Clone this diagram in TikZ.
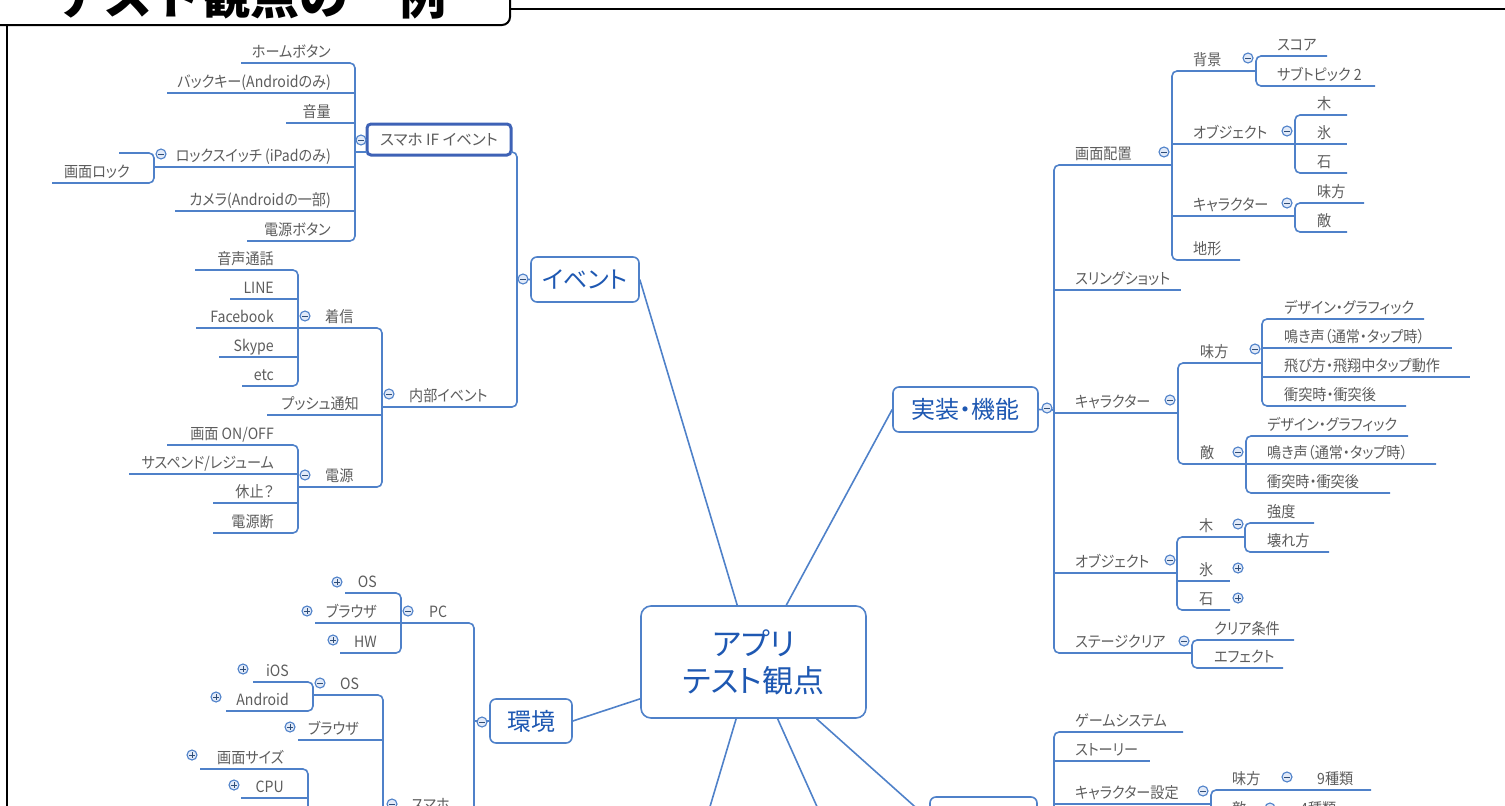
\documentclass[tikz,border=0pt]{standalone}
\usepackage{fontspec}
\setmainfont[RawFeature=+palt]{Noto Sans CJK JP}
\newfontfamily\titlefont{Noto Sans CJK JP}
\newfontfamily\leaffont[RawFeature=+palt, FakeStretch=0.91]{Noto Sans CJK JP}
\usetikzlibrary{calc}
\definecolor{lc}{RGB}{79,129,201}
\definecolor{selc}{RGB}{62,98,182}
\definecolor{tb}{RGB}{30,88,178}
\definecolor{tg}{RGB}{92,92,92}
\definecolor{cf}{RGB}{226,234,248}
\tikzset{
  ln/.style={draw=lc, line width=1.6, rounded corners=5},
  leaf/.style={text=tg, font=\leaffont\fontsize{15.5}{18}\selectfont, inner sep=0},
  topic/.style={draw=lc, line width=1.6, rounded corners=6, text=tb, font=\fontsize{24}{28}\selectfont, inner sep=0, fill=white},
  selbox/.style={draw=selc, line width=3, rounded corners=4, text=tg, font=\fontsize{15.5}{18}\selectfont, inner sep=0, fill=white},
  cminus/.style={circle, draw=lc, fill=cf, line width=1.1, minimum size=10, inner sep=0,
    path picture={\draw[lc!60!black, line width=0.9] ($(path picture bounding box.center)+(-2.6,0)$) -- ($(path picture bounding box.center)+(2.6,0)$);}},
  cplus/.style={circle, draw=lc, fill=cf, line width=1.1, minimum size=10, inner sep=0,
    path picture={\draw[lc!60!black, line width=0.9] ($(path picture bounding box.center)+(-2.6,0)$) -- ($(path picture bounding box.center)+(2.6,0)$) ($(path picture bounding box.center)+(0,-2.6)$) -- ($(path picture bounding box.center)+(0,2.6)$);}}
}
\newcommand\TL[4]{\node[leaf,anchor=base east] (#1) at (#2,#3) {#4};}
\newcommand\TR[4]{\node[leaf,anchor=base west] (#1) at (#2,#3) {#4};}
\newcommand\CM[3]{\node[cminus] (#1) at (#2,#3) {};}
\newcommand\CP[3]{\node[cplus] (#1) at (#2,#3) {};}
\begin{document}
\begin{tikzpicture}[x=1pt,y=-1pt]
\useasboundingbox (0,0) rectangle (1505,806);
% ---------- frame and title ----------
\draw[black, line width=2, rounded corners=8] (-10,-80) rectangle (510,25);
\draw[black, line width=2.2] (510,9) -- (1515,9);
\draw[black, line width=1.5] (7,25) -- (7,815);
\node[anchor=base east, font=\titlefont\bfseries\fontsize{49}{55}\selectfont, inner sep=0] (title) at (447,14) {テスト観点の一例};
% ---------- central ----------
\node[topic, rounded corners=10, minimum width=225, minimum height=112, align=center, font=\fontsize{31}{37}\selectfont] (cen) at (753.5,662) {アプリ\\テスト観点};
\node[topic, minimum width=108, minimum height=45] (ev) at (585,279.5) {イベント};
\node[topic, minimum width=145, minimum height=45] (impl) at (965.5,409.5) {実装・機能};
\node[topic, minimum width=82, minimum height=44] (env) at (531,721) {環境};
\node[topic, minimum width=107, minimum height=45] (bot) at (983.5,819.5) {};
\coordinate (b1) at (706,820);
\coordinate (b2) at (823,820);
\draw[ln] (cen.106.4) -- (ev.east);
\draw[ln] (cen.60.6) -- (impl.west);
\draw[ln] (cen.198.2) -- (env.east);
\draw[ln] (cen.253.6) -- (b1);
\draw[ln] (cen.293.6) -- (b2);
\draw[ln] (cen.318.6) -- (bot.west);
% ---------- event branch ----------
\node[selbox, minimum width=144, minimum height=31] (sif) at (439,139.5) {スマホ IF イベント};
\draw[ln] (241,63) -- (355,63) -- (355,241) -- (247,241);
\draw[ln] (167,93) -- (355,93);
\draw[ln] (286,123) -- (355,123);
\draw[ln] (154,167) -- (355,167);
\draw[ln] (175,211) -- (355,211);
\draw[ln] (355,152) -- (367,152);
\draw[ln] (119,153) -- (154,153) -- (154,183) -- (52,183);
\draw[ln] (511,152) -- (517,152) -- (517,407) -- (382,407);
\draw[ln] (517,280) -- (ev.west);
\draw[ln] (195,270) -- (298,270) -- (298,386) -- (242,386);
\draw[ln] (230,299) -- (298,299);
\draw[ln] (196,328) -- (382,328) -- (382,487) -- (298,487);
\draw[ln] (219,357) -- (298,357);
\draw[ln] (267,415) -- (382,415);
\draw[ln] (167,445) -- (298,445) -- (298,533) -- (213,533);
\draw[ln] (129,474) -- (298,474);
\draw[ln] (213,503) -- (298,503);
\TL{hb}{331}{57}{ホームボタン}
\TL{bk}{331}{87}{バックキー(Androidのみ)}
\TL{vol}{331}{117}{音量}
\TL{lock}{331}{161}{ロックスイッチ (iPadのみ)}
\TL{cam}{331}{205}{カメラ(Androidの一部)}
\TL{pwb}{331}{235}{電源ボタン}
\TL{scl}{130}{177}{画面ロック}
\CM{c1}{161}{154}
\CM{c2}{361}{140}
\CM{c3}{523}{279}
\TR{inner}{409}{401}{内部イベント}
\CM{c4}{389}{394}
\TR{chak}{325}{322}{着信}
\CM{c5}{305}{316}
\TL{vc}{274}{264}{音声通話}
\TL{line}{274}{293}{LINE}
\TL{fb}{274}{322}{Facebook}
\TL{sk}{274}{351}{Skype}
\TL{etc}{274}{380}{etc}
\TL{push}{359}{409}{プッシュ通知}
\TR{den}{325}{481}{電源}
\CM{c6}{305}{475}
\TL{onoff}{274}{439}{画面 ON/OFF}
\TL{susp}{274}{468}{サスペンド/レジューム}
\TL{hib}{274}{497}{休止？}
\TL{off}{274}{527}{電源断}
% ---------- environment branch ----------
\draw[ln] (345,593) -- (401,593) -- (401,653) -- (340,653);
\draw[ln] (315,623) -- (474,623) -- (474,815);
\draw[ln] (474,721) -- (env.west);
\draw[ln] (253,682) -- (313,682) -- (313,711) -- (226,711);
\draw[ln] (313,695) -- (383,695) -- (383,815);
\draw[ln] (298,740) -- (383,740);
\draw[ln] (200,769) -- (308,769) -- (308,815);
\draw[ln] (241,798) -- (308,798);
\CM{c7}{482}{722}
\TL{pcos}{377}{587}{OS}\CP{p1}{337}{582}
\TL{pcbr}{377}{617}{ブラウザ}\CP{p2}{307}{611}
\TL{pchw}{377}{647}{HW}\CP{p3}{333}{640}
\TR{pc}{429}{617}{PC}\CM{c8}{408}{611}
\TL{ios}{289}{676}{iOS}\CP{p4}{243}{669}
\TL{andr}{289}{705}{Android}\CP{p5}{216}{697}
\TR{smos}{340}{689}{OS}\CM{c9}{320}{683}
\TL{smbr}{359}{734}{ブラウザ}\CP{p6}{290}{727}
\TL{size}{284}{763}{画面サイズ}\CP{p7}{192}{755}
\TL{cpu}{284}{792}{CPU}\CP{p8}{234}{785}
\TR{smaho}{411}{810}{スマホ}\CM{c10}{392}{804}
% ---------- implementation branch ----------
\draw[ln] (impl.east) -- (1054,410);
\draw[ln] (1172,165) -- (1054,165) -- (1054,653) -- (1192,653);
\draw[ln] (1054,290) -- (1181,290);
\draw[ln] (1054,413) -- (1178,413);
\draw[ln] (1054,573) -- (1177,573);
\draw[ln] (1256,71) -- (1172,71) -- (1172,260) -- (1240,260);
\draw[ln] (1172,144) -- (1347,144);
\draw[ln] (1172,216) -- (1295,216);
\draw[ln] (1327,56) -- (1256,56) -- (1256,86) -- (1375,86);
\draw[ln] (1347,115) -- (1295,115) -- (1295,173) -- (1347,173);
\draw[ln] (1364,203) -- (1295,203) -- (1295,232) -- (1347,232);
\draw[ln] (1262,363) -- (1178,363) -- (1178,464) -- (1436,464);
\draw[ln] (1424,319) -- (1262,319) -- (1262,406) -- (1406,406);
\draw[ln] (1262,348) -- (1452,348);
\draw[ln] (1262,377) -- (1470,377);
\draw[ln] (1408,436) -- (1246,436) -- (1246,493) -- (1390,493);
\draw[ln] (1245,537) -- (1177,537) -- (1177,610) -- (1230,610);
\draw[ln] (1177,581) -- (1230,581);
\draw[ln] (1314,523) -- (1245,523) -- (1245,552) -- (1329,552);
\draw[ln] (1294,640) -- (1192,640) -- (1192,668) -- (1283,668);
\CM{c11}{1047}{408}
\TR{layout}{1075}{159}{画面配置}\CM{c12}{1164}{152}
\TR{bg}{1193}{65}{背景}\CM{c13}{1248}{58}
\TR{score}{1277}{50}{スコア}
\TR{sub2}{1277}{80}{サブトピック 2}
\TR{obj1}{1193}{138}{オブジェクト}\CM{c14}{1287}{131}
\TR{ki1}{1317}{109}{木}
\TR{ko1}{1317}{138}{氷}
\TR{is1}{1317}{167}{石}
\TR{chr1}{1193}{210}{キャラクター}\CM{c15}{1287}{203}
\TR{mi1}{1317}{197}{味方}
\TR{te1}{1317}{226}{敵}
\TR{chikei}{1193}{254}{地形}
\TR{sling}{1075}{284}{スリングショット}
\TR{chr2}{1075}{407}{キャラクター}\CM{c16}{1170}{400}
\TR{mi2}{1200}{357}{味方}\CM{c17}{1255}{349}
\TR{d1}{1284}{313}{デザイン・グラフィック}
\TR{n1}{1284}{342}{鳴き声（通常・タップ時）}
\TR{f1}{1284}{371}{飛び方・飛翔中タップ動作}
\TR{s1}{1284}{400}{衝突時・衝突後}
\TR{te2}{1200}{458}{敵}\CM{c18}{1238}{452}
\TR{d2}{1267}{430}{デザイン・グラフィック}
\TR{n2}{1267}{458}{鳴き声（通常・タップ時）}
\TR{s2}{1267}{487}{衝突時・衝突後}
\TR{obj2}{1075}{567}{オブジェクト}\CM{c19}{1170}{560}
\TR{ki2}{1199}{531}{木}\CM{c20}{1238}{524}
\TR{kyo}{1267}{517}{強度}
\TR{kow}{1267}{546}{壊れ方}
\TR{ko2}{1199}{575}{氷}\CP{p9}{1238}{568}
\TR{is2}{1199}{604}{石}\CP{p10}{1238}{598}
\TR{stg}{1075}{647}{ステージクリア}\CM{c21}{1184}{641}
\TR{clr}{1214}{634}{クリア条件}
\TR{eff}{1214}{662}{エフェクト}
% ---------- game branch ----------
\draw[ln] (1183,732) -- (1054,732) -- (1054,815);
\draw[ln] (1054,761) -- (1150,761);
\draw[ln] (1054,804) -- (1211,804);
\draw[ln] (1371,790) -- (1211,790) -- (1211,815);
\TR{gs}{1075}{726}{ゲームシステム}
\TR{story}{1075}{755}{ストーリー}
\TR{chset}{1075}{798}{キャラクター設定}\CM{c22}{1203}{791}
\TR{mi3}{1232}{784}{味方}\CM{c23}{1287}{777}
\TR{k9}{1317}{784}{9種類}
\TR{te3}{1232}{814}{敵}\CM{c24}{1270}{808}
\TR{k4}{1300}{814}{4種類}
\end{tikzpicture}
\end{document}
